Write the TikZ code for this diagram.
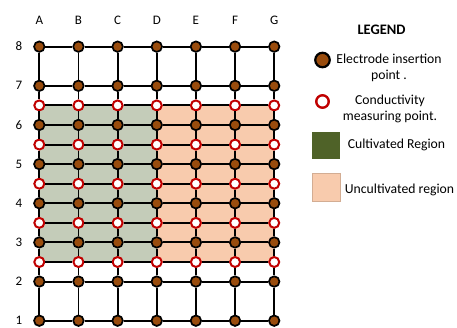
\documentclass[tikz,border=0pt]{standalone}
\usepackage{fontspec}
\setmainfont{Carlito}
\definecolor{soil}{HTML}{994C0D}
\definecolor{ring}{HTML}{C00000}
\definecolor{cultfill}{HTML}{C4CCB9}
\definecolor{uncultfill}{HTML}{F8CBAD}
\definecolor{cultkey}{HTML}{4F6228}
\tikzset{
  electrode/.style={circle, draw=black, line width=1.7pt, fill=soil, minimum size=10.5pt, inner sep=0pt},
  probe/.style={circle, draw=ring, line width=2pt, fill=white, minimum size=10pt, inner sep=0pt},
  gridline/.style={line width=1.9pt, black},
  axislabel/.style={font=\fontsize{13}{15}\selectfont, inner sep=1pt},
  keytext/.style={font=\fontsize{13.7}{16}\selectfont, align=center},
}
\begin{document}
\begin{tikzpicture}[x=1pt,y=-1pt]
\useasboundingbox (0,0) rectangle (457,327);
% grid positions
\foreach \c in {1,...,7}{
  \foreach \r in {1,...,8}{
    \coordinate (p\c\r) at ({39.3+39.15*(\c-1)},{320.7-39.15*(\r-1)});
  }
  \foreach \r in {3,...,7}{
    \coordinate (q\c\r) at ({39.3+39.15*(\c-1)},{320.7-39.15*(\r-1)+19.6});
  }
}
% field regions
\fill[cultfill] (q17) rectangle (q43);
\fill[uncultfill] (q47) rectangle (q73);
% measuring points and electrodes
\foreach \c in {1,...,7}{
  \foreach \r in {3,...,7}{ \node[probe] (m\c\r) at (q\c\r) {}; }
  \foreach \r in {1,...,8}{ \node[electrode] (e\c\r) at (p\c\r) {}; }
}
% vertical lines
\foreach \c in {1,...,7}{
  \draw[gridline] (e\c8) -- (e\c7) -- (m\c7) -- (e\c6) -- (m\c6) -- (e\c5) -- (m\c5)
    -- (e\c4) -- (m\c4) -- (e\c3) -- (m\c3) -- (e\c2) -- (e\c1);
}
% horizontal lines
\foreach \r in {1,...,8}{
  \draw[gridline] (e1\r) -- (e2\r) -- (e3\r) -- (e4\r) -- (e5\r) -- (e6\r) -- (e7\r);
}
\foreach \r in {3,...,7}{
  \draw[gridline] (m1\r) -- (m2\r) -- (m3\r) -- (m4\r) -- (m5\r) -- (m6\r) -- (m7\r);
}
% axis labels
\foreach \c/\l in {1/A,2/B,3/C,4/D,5/E,6/F,7/G}{
  \node[axislabel] (col\l) at ({39.3+39.15*(\c-1)},20.5) {\l};
}
\foreach \r in {1,...,8}{
  \node[axislabel] (row\r) at (19,{320.5-39.15*(\r-1)}) {\r};
}
% legend
\node[font=\fontsize{14.5}{16}\selectfont\bfseries] (legend) at (381.5,29.5) {LEGEND};
\node[electrode, minimum size=14.5pt, line width=2.2pt] (keyE) at (322.5,60) {};
\node[keytext] (keyEtext) at (389,67.5) {Electrode insertion\\point .};
\node[probe, minimum size=12.5pt, line width=2.4pt] (keyM) at (322.5,101.5) {};
\node[keytext] (keyMtext) at (390,109) {Conductivity\\measuring point.};
\node[fill=cultkey, minimum width=28.5pt, minimum height=27.5pt, inner sep=0pt] (keyC) at (326,145.5) {};
\node[keytext] (keyCtext) at (396.5,145) {Cultivated Region};
\node[fill=uncultfill, draw=uncultfill!85!black, line width=0.3pt, minimum width=28.5pt, minimum height=28pt, inner sep=0pt] (keyU) at (326,187.5) {};
\node[keytext] (keyUtext) at (399.5,190) {Uncultivated region};
\end{tikzpicture}
\end{document}
